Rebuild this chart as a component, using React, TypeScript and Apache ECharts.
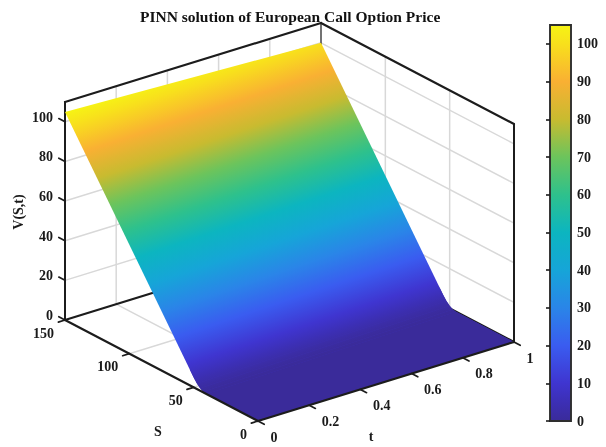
import React, { useEffect, useRef } from "react";
import * as echarts from "echarts";

const titleText = "PINN solution of European Call Option Price";
const sTicks = [0, 50, 100, 150];
const tTicks = [0, 0.2, 0.4, 0.6, 0.8, 1];
const vTicks = [0, 20, 40, 60, 80, 100];
const barTicks = [0, 10, 20, 30, 40, 50, 60, 70, 80, 90, 100];
const sMax = 150;
const vMax = 110;
const barMax = 105;

// Surface: S and V along its t = 0 and t = 1 edges.
const sAtStart = [0, 40, 42.5, 45, 47.5, 50, 150];
const vAtStart = [0, 0, 0.3, 1.25, 2.8, 5, 105];
const sAtEnd = [0, 45, 47.5, 50, 52.5, 55, 150];
const vAtEnd = [0, 0, 0.3, 1.25, 2.8, 5, 100];

const colorValues = [0, 5, 10, 20, 30, 40, 50, 60, 70, 80, 90, 100, 105];
const colorHex = ["#3a2b9a", "#3c2fb5", "#3f35d0", "#3a5cf0", "#2a85e8", "#16a5d8", "#0cb5c0", "#2ec18c", "#6cc45c", "#c8bb30", "#f9b033", "#f8e01c", "#f6f414"];

const INK = "#1c1c1c";
const GRIDLINE = "#d8d8d8";
const FONT = "'Liberation Serif', serif";

// Orthographic view of the plot box, in page pixels.
const front = [258, 421];
const sVec = [-193, -101];
const tVec = [256, -79];
const vVec = [0, -218];
function project(s: number, t: number, v: number) {
  return [
    front[0] + (sVec[0] * s) / sMax + tVec[0] * t + (vVec[0] * v) / vMax,
    front[1] + (sVec[1] * s) / sMax + tVec[1] * t + (vVec[1] * v) / vMax,
  ];
}

const colorStops = () => colorValues.map((v, k) => ({ offset: v / barMax, color: colorHex[k] }));

function line(api: any, a: number[], b: number[], color: string, width: number) {
  const p = api.coord(a);
  const q = api.coord(b);
  return {
    type: "line",
    shape: { x1: p[0], y1: p[1], x2: q[0], y2: q[1] },
    style: { stroke: color, lineWidth: width, lineCap: "round" },
    silent: true,
  };
}

function label(api: any, pos: number[], text: string, align: string, rotation = 0) {
  const p = api.coord(pos);
  return {
    type: "text",
    x: p[0],
    y: p[1],
    rotation,
    style: {
      text,
      align,
      verticalAlign: "middle",
      fontFamily: FONT,
      fontWeight: "bold",
      fontSize: 14,
      fill: "#1a1a1a",
    },
    silent: true,
  };
}

function renderWalls(_: any, api: any) {
  const kids: any[] = [];
  for (const v of vTicks) {
    if (v === 0) continue;
    kids.push(line(api, project(sMax, 0, v), project(sMax, 1, v), GRIDLINE, 1.5));
    kids.push(line(api, project(sMax, 1, v), project(0, 1, v), GRIDLINE, 1.5));
  }
  for (const t of tTicks) {
    if (t === 0 || t === 1) continue;
    kids.push(line(api, project(sMax, t, 0), project(sMax, t, vMax), GRIDLINE, 1.5));
    kids.push(line(api, project(sMax, t, 0), project(0, t, 0), GRIDLINE, 1.5));
  }
  for (const s of sTicks) {
    if (s === 0 || s === sMax) continue;
    kids.push(line(api, project(s, 1, 0), project(s, 1, vMax), GRIDLINE, 1.5));
    kids.push(line(api, project(s, 0, 0), project(s, 1, 0), GRIDLINE, 1.5));
  }
  kids.push(line(api, project(sMax, 1, 0), project(sMax, 1, vMax), "#444444", 1.5));
  kids.push(line(api, project(sMax, 0, 0), project(sMax, 1, 0), INK, 2.2));
  kids.push(line(api, project(sMax, 1, 0), project(0, 1, 0), INK, 2.2));
  kids.push(line(api, project(sMax, 0, vMax), project(sMax, 1, vMax), INK, 2.2));
  kids.push(line(api, project(sMax, 1, vMax), project(0, 1, vMax), INK, 2.2));
  kids.push(line(api, project(sMax, 0, 0), project(sMax, 0, vMax), INK, 2));
  kids.push(line(api, project(0, 1, 0), project(0, 1, vMax), INK, 2));
  return { type: "group", children: kids };
}

// The low part of the surface painted once in one colour, reaching a little
// under the ramp so that no light seam shows where the strips meet.
function renderUnderlay(_: any, api: any) {
  const n = sAtStart.length - 1;
  const reach = 0.03;
  const along = (a: number[], k: number) => a[k - 1] + (a[k] - a[k - 1]) * reach;
  const pts: number[][] = [];
  for (let i = 0; i < n; i++) pts.push(api.coord(project(sAtStart[i], 0, vAtStart[i])));
  pts.push(api.coord(project(along(sAtStart, n), 0, along(vAtStart, n))));
  pts.push(api.coord(project(along(sAtEnd, n), 1, along(vAtEnd, n))));
  for (let i = n - 1; i >= 0; i--) pts.push(api.coord(project(sAtEnd[i], 1, vAtEnd[i])));
  return { type: "polygon", shape: { points: pts }, style: { fill: colorHex[1] }, silent: true };
}

function renderFlat(_: any, api: any) {
  const pts = [
    api.coord(project(sAtStart[0], 0, vAtStart[0])),
    api.coord(project(sAtStart[1], 0, vAtStart[1])),
    api.coord(project(sAtEnd[1], 1, vAtEnd[1])),
    api.coord(project(sAtEnd[0], 1, vAtEnd[0])),
  ];
  return { type: "polygon", shape: { points: pts }, style: { fill: colorHex[0] }, silent: true };
}

function renderStrip(_: any, api: any) {
  const i = api.value(0);
  const corners = [
    [sAtStart[i], 0, vAtStart[i]],
    [sAtStart[i + 1], 0, vAtStart[i + 1]],
    [sAtEnd[i + 1], 1, vAtEnd[i + 1]],
    [sAtEnd[i], 1, vAtEnd[i]],
  ];
  const pts = corners.map((c) => api.coord(project(c[0], c[1], c[2])));
  const ax = pts[1][0] - pts[0][0];
  const ay = pts[1][1] - pts[0][1];
  const bx = pts[3][0] - pts[0][0];
  const by = pts[3][1] - pts[0][1];
  const va = corners[1][2] - corners[0][2];
  const vb = corners[3][2] - corners[0][2];
  const det = ax * by - ay * bx;
  const gx = (va * by - vb * ay) / det;
  const gy = (vb * ax - va * bx) / det;
  const g2 = gx * gx + gy * gy;
  const v0 = corners[0][2];
  const x0 = pts[0][0] - (gx * v0) / g2;
  const y0 = pts[0][1] - (gy * v0) / g2;
  const fill = new echarts.graphic.LinearGradient(
    x0,
    y0,
    x0 + (gx * barMax) / g2,
    y0 + (gy * barMax) / g2,
    colorStops(),
    true,
  );
  return { type: "polygon", shape: { points: pts }, style: { fill }, silent: true };
}

function renderFrontAxes(_: any, api: any) {
  const kids: any[] = [];
  kids.push(line(api, project(sMax, 0, 0), project(0, 0, 0), INK, 2.2));
  kids.push(line(api, project(0, 0, 0), project(0, 1, 0), INK, 2.2));
  const tickS = 7 / Math.hypot(tVec[0], tVec[1]);
  const tickT = 7 / Math.hypot(sVec[0], sVec[1]);
  for (const s of sTicks) {
    const a = project(s, 0, 0);
    kids.push(line(api, a, project(s, -tickS, 0), INK, 1.7));
    kids.push(label(api, [a[0] - 11, a[1] + 13], String(s), "right"));
  }
  for (const t of tTicks) {
    const a = project(0, t, 0);
    kids.push(line(api, a, project(-tickT * sMax, t, 0), INK, 1.7));
    kids.push(label(api, [a[0] + 12.5, a[1] + 16], String(t), "left"));
  }
  for (const v of vTicks) {
    const a = project(sMax, 0, v);
    kids.push(line(api, a, project(sMax * (1 + tickT), 0, v), INK, 1.7));
    kids.push(label(api, [a[0] - 12, a[1] - 4.5], String(v), "right"));
  }
  kids.push(label(api, [158, 431], "S", "center"));
  kids.push(label(api, [371, 436], "t", "center"));
  kids.push(label(api, [18, 212], "V(S,t)", "center", Math.PI / 2));
  return { type: "group", children: kids };
}

function renderBar(_: any, api: any) {
  const a = api.coord([0, barMax]);
  const b = api.coord([1, 0]);
  const stops = colorStops()
    .map((c) => ({ offset: 1 - c.offset, color: c.color }))
    .reverse();
  return {
    type: "rect",
    shape: { x: a[0], y: a[1], width: b[0] - a[0], height: b[1] - a[1] },
    style: {
      fill: new echarts.graphic.LinearGradient(0, 0, 0, 1, stops),
      stroke: "#2e2e2e",
      lineWidth: 1.9,
    },
    silent: true,
  };
}

// Strip 0 is flat and drawn on its own.
const strips = sAtStart.slice(1, -1).map((_, i) => [i + 1]);

export default function App() {
  const ref = useRef<HTMLDivElement>(null);
  useEffect(() => {
    document.body.style.margin = "0";
    const chart = echarts.init(ref.current!, undefined, { renderer: "svg" });
    chart.setOption({
      animation: false,
      backgroundColor: "#ffffff",
      title: {
        text: titleText,
        left: 135,
        top: 3,
        textStyle: { fontFamily: FONT, fontWeight: "bold", fontSize: 15.5, color: "#111111" },
      },
      grid: [
        { left: 0, top: 0, width: 606, height: 447 },
        { left: 550, top: 25, width: 21, height: 396 },
      ],
      xAxis: [
        { type: "value", min: 0, max: 606, show: false, gridIndex: 0 },
        { type: "value", min: 0, max: 1, show: false, gridIndex: 1 },
      ],
      yAxis: [
        { type: "value", min: 0, max: 447, inverse: true, show: false, gridIndex: 0 },
        {
          type: "value",
          gridIndex: 1,
          min: 0,
          max: barMax,
          position: "right",
          z: 5,
          axisLine: { show: false },
          splitLine: { show: false },
          axisTick: { show: true, inside: true, length: 4, customValues: barTicks, lineStyle: { color: INK, width: 1.6 } },
          axisLabel: {
            customValues: barTicks,
            margin: 6,
            fontFamily: FONT,
            fontWeight: "bold",
            fontSize: 14,
            color: "#1a1a1a",
          },
        },
      ],
      series: [
        { type: "custom", xAxisIndex: 0, yAxisIndex: 0, data: [[0]], renderItem: renderWalls, silent: true, z: 1 },
        { type: "custom", xAxisIndex: 0, yAxisIndex: 0, data: [[0]], renderItem: renderUnderlay, silent: true, z: 2 },
        { type: "custom", xAxisIndex: 0, yAxisIndex: 0, data: [[0]], renderItem: renderFlat, silent: true, z: 2 },
        { type: "custom", xAxisIndex: 0, yAxisIndex: 0, data: strips, renderItem: renderStrip, silent: true, z: 2 },
        { type: "custom", xAxisIndex: 0, yAxisIndex: 0, data: [[0]], renderItem: renderFrontAxes, silent: true, z: 3 },
        { type: "custom", xAxisIndex: 1, yAxisIndex: 1, data: [[0]], renderItem: renderBar, silent: true, z: 2 },
      ],
    });
    return () => chart.dispose();
  }, []);
  return <div ref={ref} style={{ width: 606, height: 447, filter: "blur(0.45px)" }} />;
}
